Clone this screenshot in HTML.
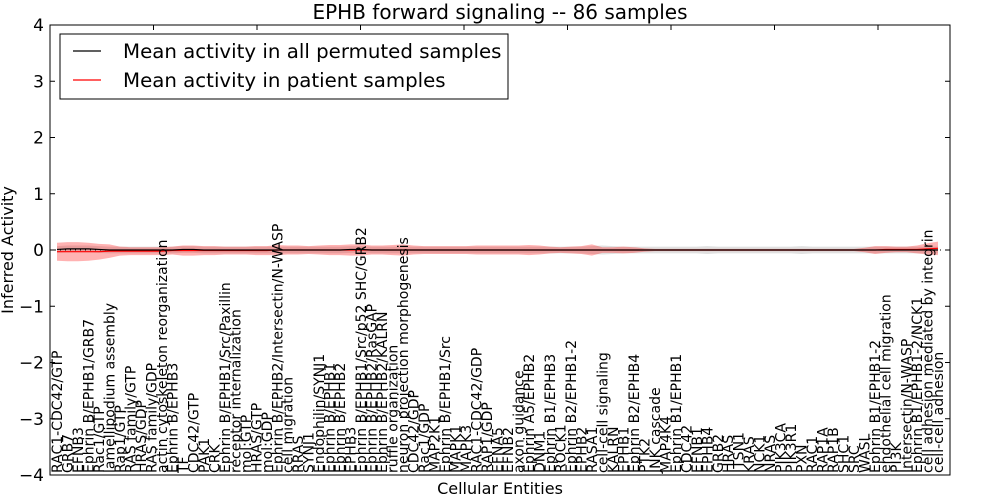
<!DOCTYPE html>
<html><head><meta charset="utf-8"><style>
html,body{margin:0;padding:0;background:#fff;}
svg{display:block;font-family:"DejaVu Sans","Liberation Sans",sans-serif;}
</style></head><body>
<svg id="chart" width="1000" height="500" viewBox="0 0 1000 500"></svg>
<script>
const categories = ["RAC1-CDC42/GTP","GRB7","EFNB3","Ephrin B/EPHB1/GRB7","Rac1/GTP","lamellipodium assembly","Rap1/GTP","RAS family/GTP","HRAS/GDP","RAS family/GDP","actin cytoskeleton reorganization","Ephrin B/EPHB3","TF","CDC42/GTP","PAK1","CRK","Ephrin B/EPHB1/Src/Paxillin","receptor internalization","mol:GTP","HRAS/GTP","mol:GDP","Ephrin B/EPHB2/Intersectin/N-WASP","cell migration","RRAS","SYNJ1","Endophilin/SYNJ1","Ephrin B/EPHB1","Ephrin B/EPHB2","EPHB3","Ephrin B/EPHB1/Src/p52 SHC/GRB2","Ephrin B/EPHB2/RasGAP","Ephrin B/EPHB2/KALRN","ruffle organization","neuron projection morphogenesis","CDC42/GDP","Rac1/GDP","MAP2K1","Ephrin B/EPHB1/Src","MAPK1","MAPK3","RAC1-CDC42/GDP","RAP1/GDP","EFNA5","EFNB2","axon guidance","Ephrin A5/EPHB2","DNM1","Ephrin B1/EPHB3","ROCK1","Ephrin B2/EPHB1-2","EPHB2","RASA1","cell-cell signaling","KALRN","EPHB1","Ephrin B2/EPHB4","PTK2","JNK cascade","MAP4K4","Ephrin B1/EPHB1","CDC42","EFNB1","EPHB4","GRB2","HRAS","ITSN1","KRAS","NCK1","NRAS","PIK3CA","PIK3R1","PXN","RAC1","RAP1A","RAP1B","SHC1","SRC","WASL","Ephrin B1/EPHB1-2","endothelial cell migration","PI3K","Intersectin/N-WASP","Ephrin B1/EPHB1-2/NCK1","cell adhesion mediated by integrin","cell-cell adhesion"];
const permMean = [0.01,0.02,0.02,0.02,0.01,0.0,0.0,0.0,0.0,0.0,0.0,0.0,0.01,0.01,0.0,0.0,0.0,0.0,0.0,0.0,0.0,0.0,0.0,0.0,0.0,0.0,0.0,0.0,0.01,0.01,0.0,0.0,0.0,0.0,0.0,0.0,0.0,0.0,0.0,0.0,0.0,0.0,0.0,0.0,0.0,0.0,0.0,0.0,0.0,0.0,0.0,0.0,0.0,0.0,0.0,0.0,0.0,0.0,0.0,0.0,0.0,0.0,0.0,0.0,0.0,0.0,0.0,0.0,0.0,0.0,0.0,0.0,0.0,0.0,0.0,0.0,0.0,0.0,0.0,0.0,0.0,0.0,0.0,0.0,0.0];
const permSd = [0.06,0.06,0.06,0.06,0.06,0.06,0.06,0.06,0.06,0.06,0.06,0.06,0.06,0.06,0.06,0.06,0.06,0.06,0.06,0.06,0.06,0.06,0.06,0.06,0.06,0.06,0.06,0.06,0.06,0.06,0.06,0.06,0.06,0.06,0.06,0.06,0.06,0.06,0.06,0.06,0.06,0.06,0.06,0.06,0.06,0.06,0.06,0.06,0.06,0.06,0.06,0.07,0.08,0.07,0.06,0.06,0.06,0.06,0.06,0.06,0.06,0.06,0.07,0.06,0.06,0.06,0.06,0.06,0.06,0.06,0.06,0.07,0.06,0.06,0.06,0.06,0.06,0.06,0.06,0.06,0.06,0.06,0.06,0.06,0.06];
const patMean = [-0.03,-0.03,-0.03,-0.03,-0.03,-0.02,-0.02,-0.02,-0.02,-0.02,-0.02,-0.01,-0.01,-0.01,-0.01,-0.01,-0.01,-0.01,-0.01,-0.01,-0.01,0.0,0.0,0.0,0.0,0.0,0.0,0.0,0.0,0.0,0.0,0.0,0.0,0.0,0.0,0.0,0.0,0.0,0.0,0.0,0.0,0.0,0.0,0.0,0.0,0.0,0.0,0.0,0.0,0.0,0.0,0.0,0.0,0.0,0.0,0.0,0.0,0.0,0.0,0.0,0.0,0.0,0.0,0.0,0.0,0.0,0.0,0.0,0.0,0.0,0.0,0.0,0.0,0.0,0.0,0.0,0.0,0.0,0.0,0.01,0.01,0.01,0.01,0.02,0.03];
const patSd = [0.16,0.17,0.17,0.16,0.14,0.12,0.08,0.07,0.07,0.07,0.07,0.07,0.09,0.09,0.08,0.08,0.07,0.07,0.07,0.08,0.08,0.09,0.08,0.08,0.07,0.08,0.09,0.09,0.1,0.1,0.08,0.08,0.09,0.1,0.08,0.07,0.07,0.07,0.07,0.07,0.08,0.08,0.08,0.08,0.08,0.09,0.08,0.06,0.05,0.06,0.07,0.1,0.05,0.05,0.06,0.05,0.03,0.02,0.02,0.02,0.02,0.02,0.02,0.02,0.02,0.02,0.02,0.02,0.02,0.02,0.02,0.02,0.02,0.02,0.02,0.02,0.02,0.04,0.07,0.06,0.05,0.05,0.07,0.1,0.12];
const yTicks = [-4,-3,-2,-1,0,1,2,3,4];

const NS = "http://www.w3.org/2000/svg";
const svg = document.getElementById('chart');
const L=50,R=950,T=25,B=475;
const yMin=-4,yMax=4;
function yS(v){return B-(v-yMin)/(yMax-yMin)*(B-T);}
function xS(i){return 57+i*(938-57)/(categories.length-1);}
function mk(tag,attrs,parent){const e=document.createElementNS(NS,tag);for(const k in attrs)e.setAttribute(k,attrs[k]);(parent||svg).appendChild(e);return e;}

let t=mk('text',{x:500,y:19,'text-anchor':'middle','font-size':20,fill:'#000'});
t.textContent='EPHB forward signaling -- 86 samples';



function bandPath(mean,sd){
  let up=[],dn=[];
  for(let i=0;i<categories.length;i++){up.push(xS(i)+','+yS(mean[i]+sd[i]));dn.unshift(xS(i)+','+yS(mean[i]-sd[i]));}
  return 'M'+up.join(' L')+' L'+dn.join(' L')+' Z';
}
let gb=mk('path',{d:bandPath(permMean,permSd),fill:'#bbbbbb','fill-opacity':0.45,stroke:'none'});


let rb=mk('path',{d:bandPath(patMean,patSd),fill:'#ff0000','fill-opacity':0.3,stroke:'none'});



let zl=mk('line',{x1:L,x2:R,y1:yS(0),y2:yS(0),stroke:'#000','stroke-width':1,'stroke-dasharray':'1,4'});



function linePts(arr){return arr.map((v,i)=>xS(i)+','+yS(v)).join(' ');}
let pl=mk('polyline',{points:linePts(patMean),fill:'none',stroke:'#ff0000','stroke-width':1.2});


let bl=mk('polyline',{points:linePts(permMean),fill:'none',stroke:'#000','stroke-width':1.2});



let fr=mk('rect',{x:L,y:T,width:R-L,height:B-T,fill:'none',stroke:'#000','stroke-width':1});



yTicks.forEach(v=>{
  const y=yS(v);
  mk('line',{x1:L,x2:L+5,y1:y,y2:y,stroke:'#000'});
  mk('line',{x1:R,x2:R-5,y1:y,y2:y,stroke:'#000'});
  let lb=mk('text',{x:L-6,y:y+6,'text-anchor':'end','font-size':17,fill:'#000'});
  lb.textContent=(v<0?'\u2212'+(-v):String(v));
  
  
});
for(let k=1;k<9;k++){const x=L+k*103.5;mk('line',{x1:x,x2:x,y1:T,y2:T+5,stroke:'#000'});}

categories.forEach((c,i)=>{
  const x=xS(i);
  let lb=mk('text',{transform:`translate(${x+5},${B-2}) rotate(-90)`,'font-size':14,fill:'#000'});
  lb.textContent=c;
  
  
});

let yt=mk('text',{transform:'translate(13,250) rotate(-90)','text-anchor':'middle','font-size':16,fill:'#000'});
yt.textContent='Inferred Activity';


let xt=mk('text',{x:500,y:494,'text-anchor':'middle','font-size':16,fill:'#000'});
xt.textContent='Cellular Entities';



let lg=mk('g',{});


mk('rect',{x:60,y:34,width:448,height:65,fill:'#fff',stroke:'#000','stroke-width':1},lg);
mk('line',{x1:73,x2:101,y1:51,y2:51,stroke:'#000','stroke-width':1.2},lg);
mk('line',{x1:73,x2:101,y1:80,y2:80,stroke:'#ff0000','stroke-width':1.2},lg);
let l1=mk('text',{x:123,y:58,'font-size':19.8,fill:'#000'},lg);
l1.textContent='Mean activity in all permuted samples';


let l2=mk('text',{x:123,y:87,'font-size':19.8,fill:'#000'},lg);
l2.textContent='Mean activity in patient samples';


</script>
</body></html>
